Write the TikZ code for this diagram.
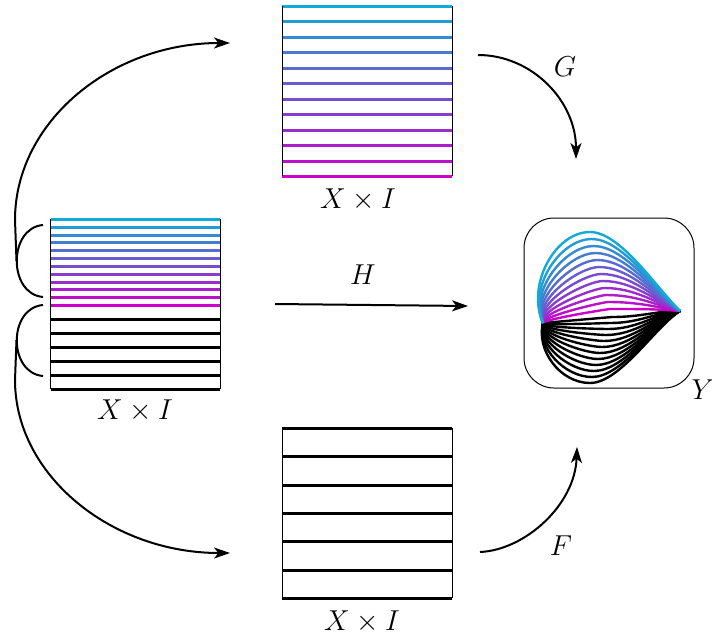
\documentclass[tikz,border=0pt]{standalone}
\usetikzlibrary{arrows.meta,calc}
\definecolor{cA}{RGB}{18,170,214}
\definecolor{cB}{RGB}{204,0,200}
\begin{document}
\begin{tikzpicture}[x=0.5pt,y=-0.5pt,
  lbl/.style={font=\Large,inner sep=1pt},
  arr/.style={line width=1pt,-{Stealth[length=8pt,width=5.5pt,inset=2.2pt]}},
  rung/.style={line width=1.5pt},
  side/.style={line width=0.5pt},
  fib/.style={line width=1.2pt},
  sq/.style={minimum width=85pt,minimum height=85pt,inner sep=0pt,outer sep=0pt}]
\useasboundingbox (0,0) rectangle (712,643);

% stack nodes
\node[sq] (L) at (135.5,304) {};
\node[sq] (T) at (367,91) {};
\node[sq] (B) at (367,513) {};
\node[sq,draw,line width=0.5pt,rounded corners=15pt] (Yb) at (609,303) {};

% left stack
\foreach \i in {0,...,11}{
  \pgfmathsetmacro\pc{100*(11-\i)/11}
  \pgfmathsetmacro\yy{round(219+\i*86/11)+0.5}
  \draw[rung,color=cA!\pc!cB] (51,\yy) -- (220,\yy);
}
\foreach \j in {1,...,6}{
  \draw[rung] (51,{305.5+\j*14}) -- (220,{305.5+\j*14});
}
\draw[side] (L.north west) -- (L.south west);
\draw[side] (L.north east) -- (L.south east);

% top stack
\foreach \i in {0,...,11}{
  \pgfmathsetmacro\pc{100*(11-\i)/11}
  \pgfmathsetmacro\yy{round(6+\i*170/11)+0.5}
  \draw[rung,color=cA!\pc!cB] (282,\yy) -- (452,\yy);
}
\draw[side] (T.north west) -- (T.south west);
\draw[side] (T.north east) -- (T.south east);

% bottom stack
\foreach \j in {0,...,6}{
  \pgfmathsetmacro\yy{round(428+\j*170/6)+0.5}
  \draw[rung] (282,\yy) -- (452,\yy);
}
\draw[side] (B.north west) -- (B.south west);
\draw[side] (B.north east) -- (B.south east);

% labels
\node[lbl] (lL) at (135,411) {$X\times I$};
\node[lbl] (lT) at (358,200) {$X\times I$};
\node[lbl] (lB) at (362,622) {$X\times I$};
\node[lbl] (lY) at (703,390) {$Y$};
\node[lbl] (lG) at (565,67) {$G$};
\node[lbl] (lH) at (363,275) {$H$};
\node[lbl] (lF) at (561,546) {$F$};

% curves in Y
\coordinate (ya) at (543,323);
\coordinate (yb) at (680,311);
\foreach \j in {0,...,11}{
  \pgfmathsetmacro\s{\j/11}
  \pgfmathsetmacro\bx{612-22*\s}
  \pgfmathsetmacro\by{317+66*\s}
  \draw[fib] (ya) .. controls ({543-7*\s},{323+27*\s}) and ({\bx-30*\s},\by) .. (\bx,\by)
     .. controls ({\bx+30},\by) and (655,{311+16*\s}) .. (yb);
}
\foreach \k in {1,...,12}{
  \pgfmathsetmacro\s{\k/12}
  \pgfmathsetmacro\pc{100*(\k-1)/11}
  \pgfmathsetmacro\px{612-22*\s}
  \pgfmathsetmacro\py{316-84*\s}
  \draw[fib,color=cA!\pc!cB] (ya) .. controls ({543-17*\s},{323-38*\s}) and ({\px-35*\s},\py) .. (\px,\py)
     .. controls ({\px+30},\py) and (655,{311-25*\s}) .. (yb);
}

% small brace arcs
\coordinate (s1a) at (43,225);
\coordinate (s1b) at (43,297);
\coordinate (s2a) at (43,305);
\coordinate (s2b) at (43,376);
\draw[line width=1pt] (s1a) .. controls (8,228) and (8,294) .. (s1b);
\draw[line width=1pt] (s2a) .. controls (8,308) and (8,373) .. (s2b);

% big arcs
\coordinate (g1) at (16.5,261);
\coordinate (g2) at (230,43);
\coordinate (g3) at (16.5,340);
\coordinate (g4) at (230,553);
\draw[arr] (g1) -- (15,220) .. controls (15,122) and (111,43) .. (g2);
\draw[arr] (g3) -- (15,380) .. controls (15,475) and (111,553) .. (g4);

% G, H, F arrows
\coordinate (ga) at (478,55);
\coordinate (gb) at (576,159);
\draw[arr] (ga) .. controls (532,55) and (576,101) .. (gb);
\coordinate (ha) at (275,304);
\coordinate (hb) at (468,306);
\draw[arr] (ha) -- (hb);
\coordinate (fa) at (480,552);
\coordinate (fb) at (577,447);
\draw[arr] (fa) .. controls (525,550) and (575,505) .. (fb);
\end{tikzpicture}
\end{document}
